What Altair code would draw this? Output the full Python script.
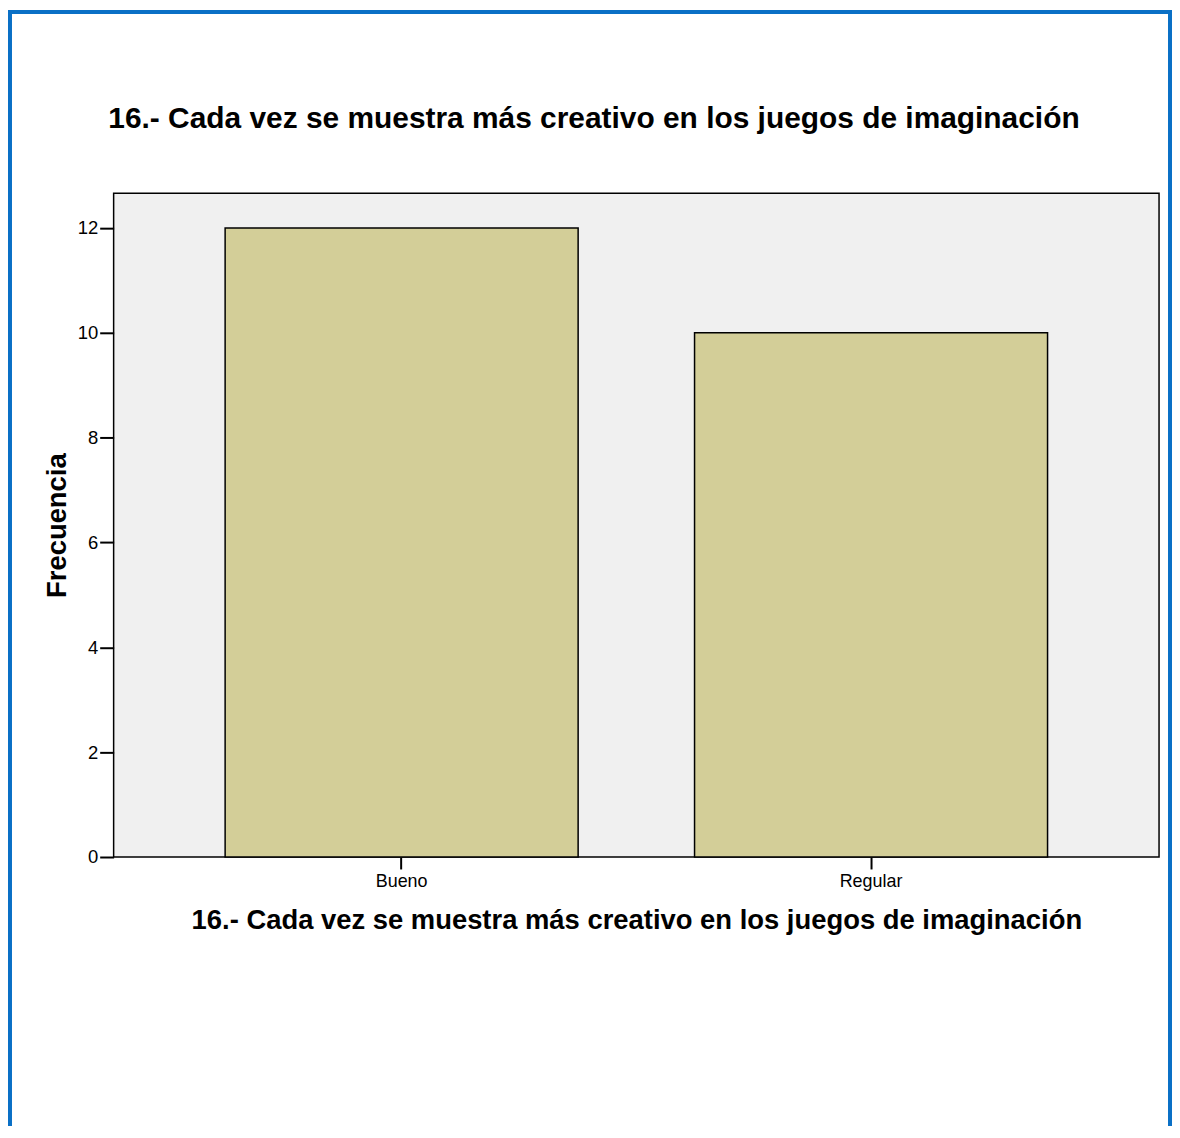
import altair as alt
import pandas as pd

categories = ["Bueno", "Regular"]
frequencies = [12, 10]
y_ticks = [0, 2, 4, 6, 8, 10, 12]

title_text = "16.- Cada vez se muestra más creativo en los juegos de imaginación"

df = pd.DataFrame({"cat": categories, "freq": frequencies})

FONT = "Liberation Sans"

bars = alt.Chart(df).mark_bar(
    color="#d3ce98", stroke="black", strokeWidth=1.5
).encode(
    x=alt.X(
        "cat:N",
        sort=categories,
        scale=alt.Scale(paddingInner=0.248, paddingOuter=0.2375),
        axis=alt.Axis(
            title=title_text,
            labelAngle=0,
            labelFont=FONT,
            labelFontSize=18,
            labelColor="black",
            labelPadding=4,
            tickSize=12,
            tickColor="black",
            tickWidth=2,
            domain=False,
            titleFont=FONT,
            titleFontSize=27.5,
            titleFontWeight="bold",
            titleColor="black",
            titlePadding=16,
        ),
    ),
    y=alt.Y(
        "freq:Q",
        scale=alt.Scale(domain=[0, 12.66], nice=False),
        axis=alt.Axis(
            title="Frecuencia",
            values=y_ticks,
            grid=False,
            labelFont=FONT,
            labelFontSize=18.5,
            labelColor="black",
            labelPadding=2,
            tickSize=14,
            tickColor="black",
            tickWidth=2,
            domain=False,
            titleFont=FONT,
            titleFontSize=27.5,
            titleFontWeight="bold",
            titleColor="black",
            titlePadding=6,
        ),
    ),
)

title_mark = alt.Chart(pd.DataFrame({"t": [title_text]})).mark_text(
    font=FONT, fontSize=30, fontWeight="bold", color="black",
    align="center", baseline="alphabetic", clip=False
).encode(
    text="t:N",
    x=alt.value(482),
    y=alt.value(-66),
)

frame = alt.Chart(pd.DataFrame({"k": [0]})).mark_rect(
    fillOpacity=0, stroke="#0a70c6", strokeWidth=4, clip=False
).encode(
    x=alt.value(-104), x2=alt.value(1060),
    y=alt.value(-182), y2=alt.value(1000),
)

chart = alt.layer(bars, title_mark, frame).properties(
    width=1049,
    height=666,
    autosize=alt.AutoSizeParams(type="none"),
    padding={"left": 106, "top": 184, "right": 13, "bottom": 268},
    background="white",
).configure_view(
    fill="#f0f0f0", stroke="black", strokeWidth=1.5
)

chart.save("out.html", embed_options={"renderer": "svg", "actions": False})
